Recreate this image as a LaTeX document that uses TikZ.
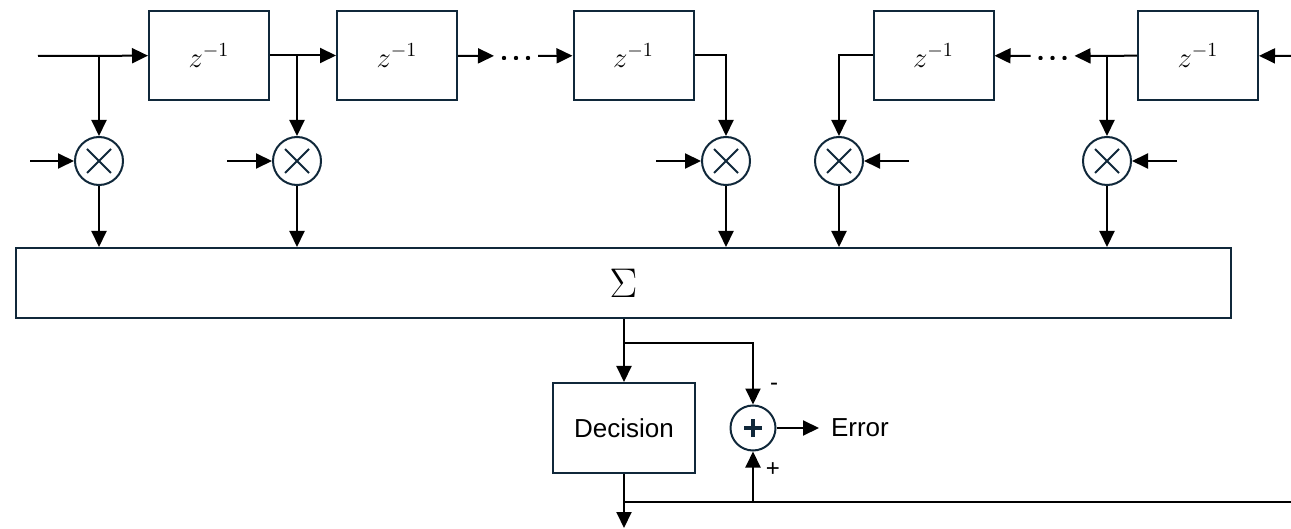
\documentclass[tikz,border=0pt]{standalone}
\usepackage{fontspec}
\newfontfamily\labelfont{Liberation Sans}
\usepackage{tikz}
\usetikzlibrary{arrows.meta, positioning}
\definecolor{boxline}{RGB}{16,40,58}

\begin{document}
\begin{tikzpicture}[
            x=0.5pt, y=-0.5pt,
            line width=1pt,
            arr/.style={-{Triangle[length=8pt, width=7.5pt]}},
            delay/.style={rectangle, draw=boxline, minimum width=60pt, minimum height=44.5pt, inner sep=0pt, font=\fontsize{14.4}{16}\selectfont},
            dots/.style={inner sep=0pt, minimum width=21pt, minimum height=4pt,
                path picture={\fill[shift={(path picture bounding box.center)}] (-6pt,-1pt) circle (1.1pt) (0pt,-1pt) circle (1.1pt) (6pt,-1pt) circle (1.1pt);}},
            mult/.style={circle, draw=boxline, minimum size=24pt, inner sep=0pt,
                path picture={\draw[line width=0.9pt, shift={(path picture bounding box.center)}] (-6pt,-6pt) -- (6pt,6pt) (-6pt,6pt) -- (6pt,-6pt);}},
            adder/.style={circle, draw=boxline, minimum size=22.5pt, inner sep=0pt,
                path picture={\draw[line width=1.7pt, shift={(path picture bounding box.center)}] (-4.5pt,0pt) -- (4.5pt,0pt) (0pt,-4.5pt) -- (0pt,4.5pt);}},
            sumbox/.style={rectangle, draw=boxline, minimum width=607.5pt, minimum height=35pt, inner sep=0pt, font=\fontsize{20}{20}\selectfont},
            decbox/.style={rectangle, draw=boxline, minimum width=71pt, minimum height=45pt, inner sep=0pt, font=\labelfont\fontsize{13}{15}\selectfont},
            sign/.style={inner sep=0pt, font=\labelfont\fontsize{12}{14}\selectfont},
            outtext/.style={inner sep=5.5pt, anchor=west, font=\labelfont\fontsize{13}{15}\selectfont}
        ]
            \useasboundingbox (0,0) rectangle (1291,529);

            % Delay line
            \node[delay] (d1) at (209,55.5) {$z^{-1}$};
            \node[delay] (d2) at (397,55.5) {$z^{-1}$};
            \node[dots] (dotsA) at (516,56) {};
            \node[delay] (d3) at (633.5,55.5) {$z^{-1}$};
            \node[delay] (d4) at (933.5,55.5) {$z^{-1}$};
            \node[dots] (dotsB) at (1052.5,56) {};
            \node[delay] (d5) at (1198,55.5) {$z^{-1}$};

            % Multipliers
            \foreach \name/\x in {m1/99, m2/297, m3/726, m4/839, m5/1107}
                \node[mult] (\name) at (\x,161) {};

            % Sum, decision and error
            \node[sumbox] (sum) at (623.5,283) {$\Sigma$};
            \node[decbox] (dec) at (624,428) {Decision};
            \node[adder] (add) at (753,428) {};
            \node[sign] (minus) at (774,387) {-};
            \node[sign] (plus) at (773,470) {+};
            \node[outtext] (err) at (819,428) {Error};

            % Free ends
            \coordinate (inL) at (38,56);
            \coordinate (inR) at (1291,56);
            \coordinate (x1) at (30,161);
            \coordinate (x2) at (227,161);
            \coordinate (x3) at (656,161);
            \coordinate (x4) at (909,161);
            \coordinate (x5) at (1177,161);
            \coordinate (br1) at (624,343);
            \coordinate (br2) at (624,502);
            \coordinate (out) at (624,528);
            \coordinate (outR) at (1291,502);

            % Arrows along the delay line
            \draw[arr] (inL) -- (d1);
            \draw[arr] (d1) -- (d2);
            \draw[arr] (d2) -- (dotsA);
            \draw[arr] (dotsA) -- (d3);
            \draw[arr] (inR) -- (d5);
            \draw[arr] (d5) -- (dotsB);
            \draw[arr] (dotsB) -- (d4);

            % Taps
            \draw[arr] (m1 |- d1) -- (m1);
            \draw[arr] (m2 |- d1) -- (m2);
            \draw[arr] (d3.east) -| (m3);
            \draw[arr] (d4.west) -| (m4);
            \draw[arr] (m5 |- d5) -- (m5);

            % Coefficients and products
            \foreach \i in {1,...,5} {
                \draw[arr] (x\i) -- (m\i);
                \draw[arr] (m\i) -- (m\i |- sum.north);
            }

            % Output part
            \draw[arr] (dec |- sum.south) -- (dec);
            \draw[arr] (br1) -| (add);
            \draw[arr] (add) -- (err);
            \draw[arr] (dec) -- (out);
            \draw (br2) -- (outR);
            \draw[arr] (add |- br2) -- (add);

        \end{tikzpicture}
\end{document}
